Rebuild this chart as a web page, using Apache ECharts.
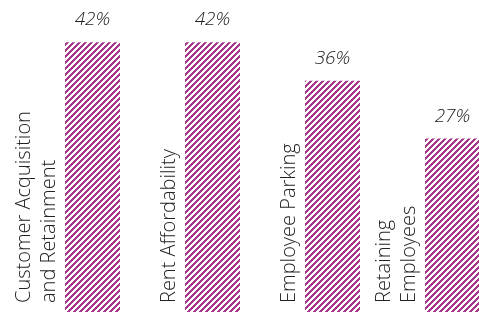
<!DOCTYPE html>
<html>
<head>
<meta charset="utf-8">
<script src="https://cdn.jsdelivr.net/npm/echarts@6/dist/echarts.min.js"></script>
<style>
  html, body { margin: 0; padding: 0; background: #fff; }
  #main { width: 479px; height: 313px; }
</style>
</head>
<body>
<div id="main"></div>
<script>
var categories = ['Customer Acquisition\nand Retainment', 'Rent Affordability', 'Employee Parking', 'Retaining\nEmployees'];
var shares = [42, 42, 36, 27];

// diagonal hatch tile
function hatch(color) {
	var p = 6, c = document.createElement('canvas');
	c.width = p; c.height = p;
	var ctx = c.getContext('2d');
	ctx.fillStyle = '#fff';
	ctx.fillRect(0, 0, p, p);
	ctx.fillStyle = color;
	for (var x = 0; x < p; x++) {
		for (var y = 0; y < p; y++) {
			if ((x + y) % p < 3) ctx.fillRect(x, y, 1, 1);
		}
	}
	return c;
}

var chart = echarts.init(document.getElementById('main'));
var option = {
	animation: false,
	grid: [
		{ left: 32.5, width: 480, top: 23, bottom: 1, outerBoundsMode: 'none' },
		{ left: 2, width: 480, top: 23, bottom: 1, outerBoundsMode: 'none' }
	],
	xAxis: [
		{
			type: 'category',
			gridIndex: 0,
			data: categories,
			axisLine: { show: false },
			axisTick: { show: false },
			axisLabel: { show: false }
		},
		{
			type: 'category',
			gridIndex: 1,
			data: categories,
			axisLine: { show: false },
			axisTick: { show: false },
			axisLabel: {
				inside: true,
				interval: 0,
				rotate: 90,
				margin: 9,
				align: 'left',
				verticalAlign: 'bottom',
				lineHeight: 25,
				fontFamily: 'Open Sans',
				fontWeight: 300,
				fontSize: 20,
				color: '#222'
			}
		}
	],
	yAxis: [
		{ type: 'value', gridIndex: 0, min: 0, max: 45, show: false, splitLine: { show: false } },
		{ type: 'value', gridIndex: 1, min: 0, max: 45, show: false, splitLine: { show: false } }
	],
	series: [
		{
			type: 'bar',
			xAxisIndex: 0,
			yAxisIndex: 0,
			barWidth: 55,
			data: shares,
			itemStyle: {
				color: { image: hatch('#a6378a'), repeat: 'repeat' }
			},
			label: {
				show: true,
				position: 'top',
				distance: 13,
				formatter: '{c}%',
				fontFamily: 'Open Sans',
				fontStyle: 'italic',
				fontWeight: 300,
				fontSize: 19,
				color: '#222'
			}
		}
	]
};
chart.setOption(option);
</script>
</body>
</html>
